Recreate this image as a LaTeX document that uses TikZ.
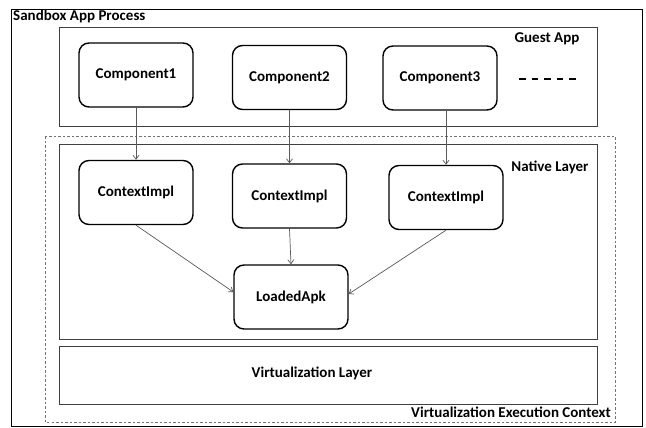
\documentclass[tikz,border=0pt]{standalone}
\usepackage{fontspec}
\setmainfont{Carlito}
\usetikzlibrary{arrows.meta,calc}
\begin{document}
\begin{tikzpicture}[x=1pt,y=-1pt,
  lbl/.style={font=\bfseries\fontsize{15}{17}\selectfont, inner sep=0pt},
  comp/.style={draw=black, line width=1.4pt, rounded corners=10pt, fill=white,
    minimum width=114pt, minimum height=64pt, font=\bfseries\fontsize{15}{17}\selectfont},
  layer/.style={draw=black!75, line width=0.8pt},
  link/.style={draw=black!65, line width=0.7pt, -{Straight Barb[length=4pt,width=6pt]}}]
\useasboundingbox (0,0) rectangle (646,428);
\fill[white] (0,0) rectangle (646,428);

% outer process frame
\draw[black, line width=0.8pt] (11,9) rectangle (642,426);
\node[lbl, anchor=west] (sandbox) at (13,16) {Sandbox App Process};

% virtualization execution context (dashed)
\draw[black!55, line width=0.9pt, dash pattern=on 2.5pt off 2pt] (45,136) rectangle (615,422);
\node[lbl, anchor=east] (vec) at (611,412) {Virtualization Execution Context};

% guest app layer
\draw[layer] (59,27) rectangle (597,126);
\node[lbl] (guest) at (547,39) {Guest App};
\draw[black, line width=1.4pt, dash pattern=on 6.5pt off 6pt] (519,79) -- (575.5,79);

% native layer
\draw[layer] (59,144) rectangle (597,339);
\node[lbl] (native) at (550,167) {Native Layer};

% virtualization layer
\draw[layer] (59,346) rectangle (597,404);
\node[lbl] (virt) at (312,373) {Virtualization Layer};

% components
\node[comp] (c1) at (136,75) {Component1};
\node[comp] (c2) at (289.5,77.5) {Component2};
\node[comp] (c3) at (440,78) {Component3};

% context implementations
\node[comp] (k1) at (136,192.5) {ContextImpl};
\node[comp] (k2) at (289.5,196) {ContextImpl};
\node[comp] (k3) at (446,197.5) {ContextImpl};

% loaded apk
\node[comp] (apk) at (291,297) {LoadedApk};

% connectors
\draw[link] (c1.south) -- (k1.north);
\draw[link] (c2.south) -- (k2.north);
\draw[link] (c3.south -| k3.north) -- (k3.north);
\draw[link] (k1.south) -- ($(apk.west)+(0,-5)$);
\draw[link] (k2.south) -- (apk.north);
\draw[link] (k3.south) -- ($(apk.east)+(0,-3)$);
\end{tikzpicture}
\end{document}
